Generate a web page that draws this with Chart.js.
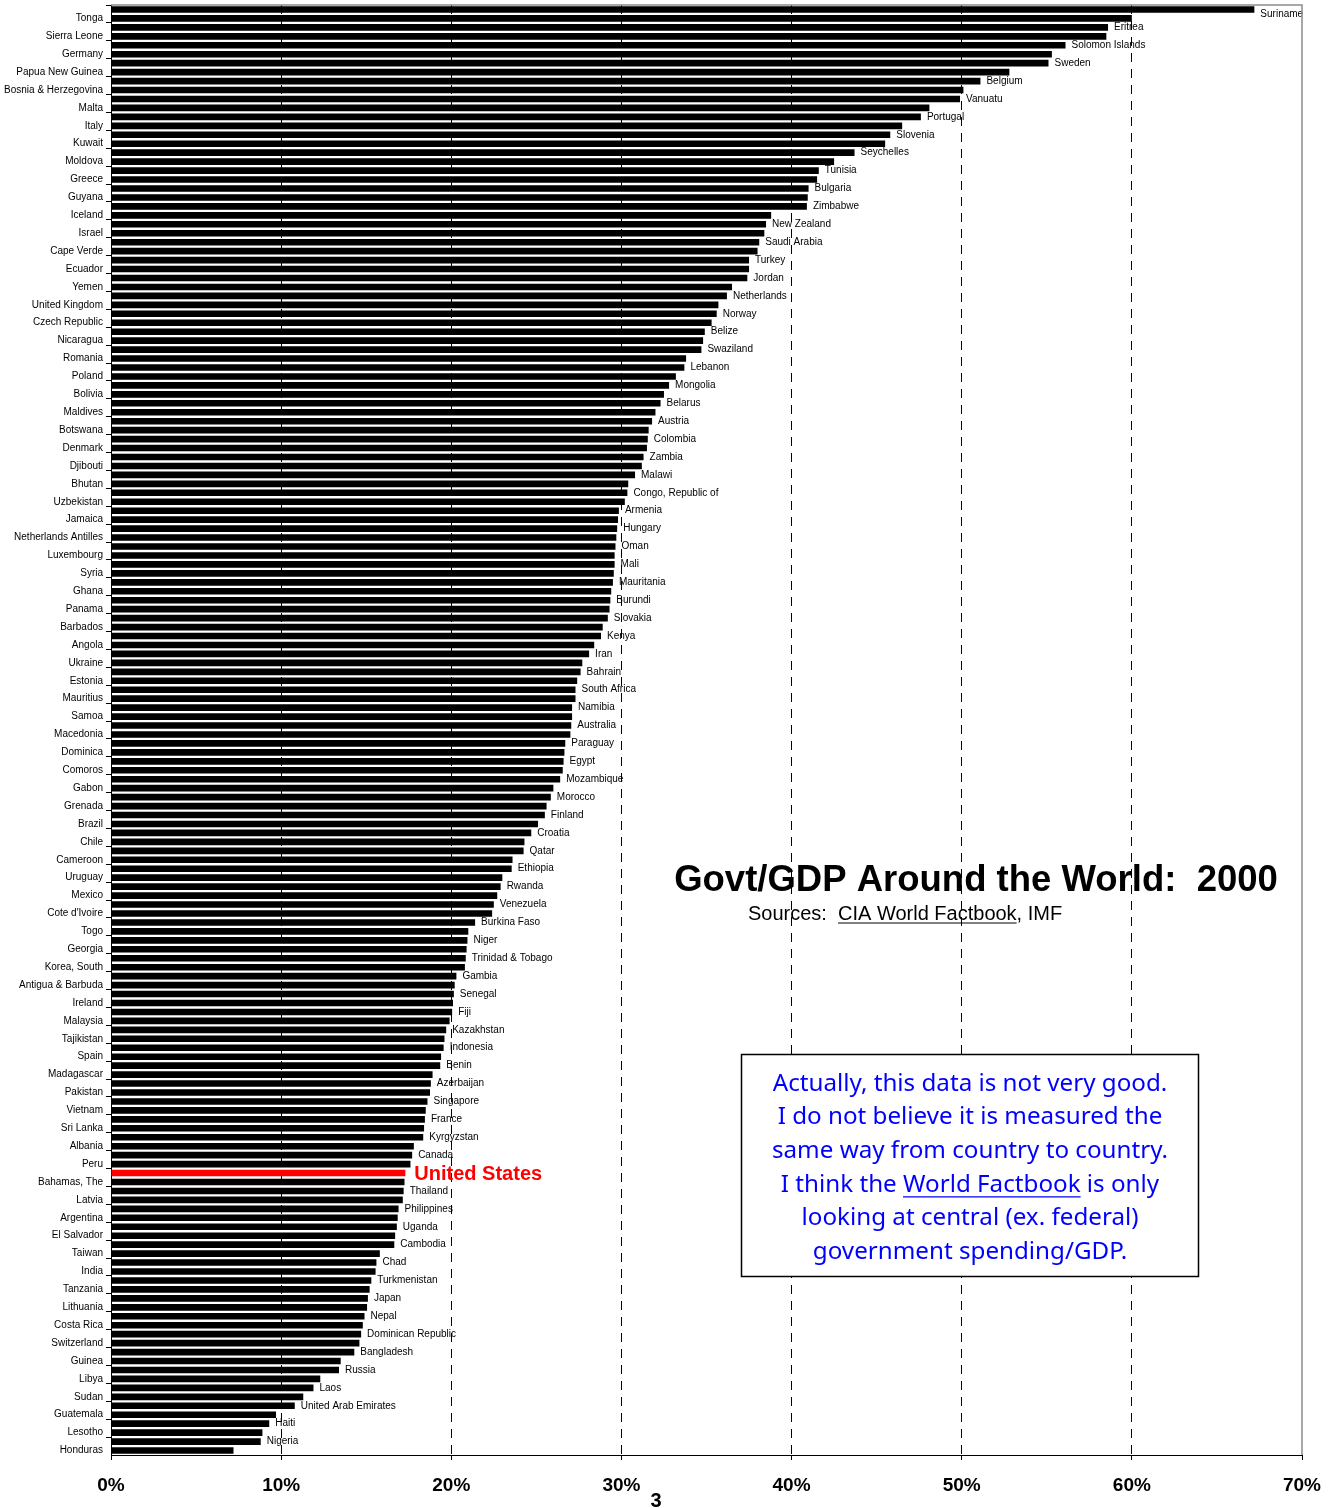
<!DOCTYPE html>
<html>
<head>
<meta charset="utf-8">
<title>Govt/GDP Around the World: 2000</title>
<script src="https://cdn.jsdelivr.net/npm/chart.js@4.4.1/dist/chart.umd.min.js"></script>
<style>
  html, body { margin: 0; padding: 0; background: #fff; }
  #wrap { width: 1331px; height: 1508px; }
</style>
</head>
<body>
<div id="wrap"><canvas id="govt-chart" width="1331" height="1508"></canvas></div>
<script>
// countries, sorted from largest to smallest govt share of GDP
const countries = [
  'Suriname', 'Tonga', 'Eritrea', 'Sierra Leone', 'Solomon Islands', 'Germany', 'Sweden', 'Papua New Guinea',
  'Belgium', 'Bosnia & Herzegovina', 'Vanuatu', 'Malta', 'Portugal', 'Italy', 'Slovenia', 'Kuwait',
  'Seychelles', 'Moldova', 'Tunisia', 'Greece', 'Bulgaria', 'Guyana', 'Zimbabwe', 'Iceland',
  'New Zealand', 'Israel', 'Saudi Arabia', 'Cape Verde', 'Turkey', 'Ecuador', 'Jordan', 'Yemen',
  'Netherlands', 'United Kingdom', 'Norway', 'Czech Republic', 'Belize', 'Nicaragua', 'Swaziland', 'Romania',
  'Lebanon', 'Poland', 'Mongolia', 'Bolivia', 'Belarus', 'Maldives', 'Austria', 'Botswana',
  'Colombia', 'Denmark', 'Zambia', 'Djibouti', 'Malawi', 'Bhutan', 'Congo, Republic of', 'Uzbekistan',
  'Armenia', 'Jamaica', 'Hungary', 'Netherlands Antilles', 'Oman', 'Luxembourg', 'Mali', 'Syria',
  'Mauritania', 'Ghana', 'Burundi', 'Panama', 'Slovakia', 'Barbados', 'Kenya', 'Angola',
  'Iran', 'Ukraine', 'Bahrain', 'Estonia', 'South Africa', 'Mauritius', 'Namibia', 'Samoa',
  'Australia', 'Macedonia', 'Paraguay', 'Dominica', 'Egypt', 'Comoros', 'Mozambique', 'Gabon',
  'Morocco', 'Grenada', 'Finland', 'Brazil', 'Croatia', 'Chile', 'Qatar', 'Cameroon',
  'Ethiopia', 'Uruguay', 'Rwanda', 'Mexico', 'Venezuela', "Cote d'Ivoire", 'Burkina Faso', 'Togo',
  'Niger', 'Georgia', 'Trinidad & Tobago', 'Korea, South', 'Gambia', 'Antigua & Barbuda', 'Senegal', 'Ireland',
  'Fiji', 'Malaysia', 'Kazakhstan', 'Tajikistan', 'Indonesia', 'Spain', 'Benin', 'Madagascar',
  'Azerbaijan', 'Pakistan', 'Singapore', 'Vietnam', 'France', 'Sri Lanka', 'Kyrgyzstan', 'Albania',
  'Canada', 'Peru', 'United States', 'Bahamas, The', 'Thailand', 'Latvia', 'Philippines', 'Argentina',
  'Uganda', 'El Salvador', 'Cambodia', 'Taiwan', 'Chad', 'India', 'Turkmenistan', 'Tanzania',
  'Japan', 'Lithuania', 'Nepal', 'Costa Rica', 'Dominican Republic', 'Switzerland', 'Bangladesh', 'Guinea',
  'Russia', 'Libya', 'Laos', 'Sudan', 'United Arab Emirates', 'Guatemala', 'Haiti', 'Lesotho',
  'Nigeria', 'Honduras'
]

// government spending as % of GDP
const govtShare = [
  67.2, 60.0, 58.6, 58.5, 56.1, 55.3, 55.1, 52.8,
  51.1, 50.1, 49.9, 48.1, 47.6, 46.5, 45.8, 45.5,
  43.7, 42.5, 41.6, 41.5, 41.0, 40.95, 40.9, 38.8,
  38.5, 38.4, 38.1, 38.0, 37.5, 37.5, 37.4, 36.5,
  36.2, 35.7, 35.6, 35.3, 34.9, 34.8, 34.7, 33.8,
  33.7, 33.2, 32.8, 32.5, 32.3, 32.0, 31.8, 31.6,
  31.55, 31.5, 31.3, 31.2, 30.8, 30.4, 30.35, 30.2,
  29.85, 29.8, 29.75, 29.7, 29.65, 29.6, 29.6, 29.55,
  29.5, 29.4, 29.35, 29.3, 29.2, 28.9, 28.8, 28.4,
  28.1, 27.7, 27.6, 27.4, 27.3, 27.3, 27.1, 27.1,
  27.05, 27.0, 26.7, 26.65, 26.6, 26.55, 26.4, 26.0,
  25.85, 25.6, 25.5, 25.1, 24.7, 24.3, 24.25, 23.6,
  23.55, 23.0, 22.9, 22.7, 22.5, 22.4, 21.4, 21.0,
  20.95, 20.9, 20.85, 20.8, 20.3, 20.2, 20.15, 20.1,
  20.05, 19.9, 19.7, 19.6, 19.55, 19.4, 19.35, 18.9,
  18.8, 18.75, 18.6, 18.5, 18.45, 18.4, 18.35, 17.8,
  17.7, 17.6, 17.3, 17.25, 17.2, 17.15, 16.9, 16.85,
  16.8, 16.7, 16.65, 15.8, 15.6, 15.55, 15.3, 15.2,
  15.1, 15.05, 14.9, 14.8, 14.7, 14.6, 14.3, 13.5,
  13.4, 12.3, 11.9, 11.3, 10.8, 9.7, 9.3, 8.9,
  8.8, 7.2
]

const xTickValues = [0, 10, 20, 30, 40, 50, 60, 70]
const highlightCountry = 'United States'

const titleText = 'Govt/GDP Around the World:  2000'
const noteLines = [
  'Actually, this data is not very good.',
  'I do not believe it is measured the',
  'same way from country to country.',
  'I think the World Factbook is only',
  'looking at central (ex. federal)',
  'government spending/GDP.'
]

const FONT = '"Liberation Sans", Arial, Helvetica, sans-serif'

// white page behind everything
const pageBackground = {
  id: 'pageBackground',
  beforeDraw(chart) {
    const ctx = chart.ctx
    ctx.save()
    ctx.fillStyle = '#fff'
    ctx.fillRect(0, 0, chart.width, chart.height)
    ctx.restore()
  }
}

// names of the even rows, written just past the end of each bar
const sideLabels = {
  id: 'sideLabels',
  afterDatasetsDraw(chart) {
    const ctx = chart.ctx
    const top = chart.chartArea.top
    const bars = chart.getDatasetMeta(0).data
    ctx.save()
    ctx.textBaseline = 'middle'
    ctx.textAlign = 'left'
    bars.forEach((bar, i) => {
      if (i % 2) return
      const name = countries[i]
      if (name === highlightCountry) {
        ctx.font = 'bold 20px ' + FONT
        ctx.fillStyle = '#ff0000'
        ctx.fillText(name, bar.x + 9, bar.y + 1)
      } else {
        ctx.font = '10px ' + FONT
        ctx.fillStyle = '#000'
        ctx.fillText(name, bar.x + 6, Math.max(bar.y, top + 9))
      }
    })
    ctx.restore()
  }
}

const underline = (ctx, x1, x2, y, color) => {
  ctx.strokeStyle = color
  ctx.lineWidth = 1.2
  ctx.beginPath()
  ctx.moveTo(x1, y)
  ctx.lineTo(x2, y)
  ctx.stroke()
}

// plot frame, title, sources, note box and page number
const annotations = {
  id: 'annotations',
  afterDraw(chart) {
    const ctx = chart.ctx
    const { left, right, top, bottom } = chart.chartArea
    ctx.save()

    ctx.strokeStyle = '#8c8c8c'
    ctx.lineWidth = 1.5
    ctx.beginPath()
    ctx.moveTo(left, top)
    ctx.lineTo(right, top)
    ctx.lineTo(right, bottom)
    ctx.stroke()

    ctx.fillStyle = '#000'
    ctx.textBaseline = 'alphabetic'
    ctx.textAlign = 'center'
    ctx.font = 'bold 36.5px ' + FONT
    ctx.fillText(titleText, 976, 891)

    ctx.textAlign = 'left'
    ctx.font = '20px ' + FONT
    const s1 = 'Sources:  '
    const s2 = 'CIA World Factbook'
    const s3 = ', IMF'
    let x = 748
    ctx.fillText(s1, x, 920)
    x += ctx.measureText(s1).width
    ctx.fillText(s2, x, 920)
    const w2 = ctx.measureText(s2).width
    underline(ctx, x, x + w2, 923, '#000')
    ctx.fillText(s3, x + w2, 920)

    // note box
    ctx.fillStyle = '#fff'
    ctx.fillRect(741, 1054, 457, 222)
    ctx.strokeStyle = '#000'
    ctx.lineWidth = 1.5
    ctx.strokeRect(741.5, 1054.5, 457, 222)

    const noteFont = '"Noto Sans", "DejaVu Sans", sans-serif'
    ctx.font = '24px ' + noteFont
    const size = 24 * 395 / ctx.measureText(noteLines[0]).width
    ctx.font = size.toFixed(1) + 'px ' + noteFont
    ctx.fillStyle = '#0000ff'
    ctx.textAlign = 'left'
    ctx.textBaseline = 'middle'
    noteLines.forEach((line, i) => {
      const w = ctx.measureText(line).width
      const lx = 970 - w / 2
      const ly = 1084 + i * 33.6
      ctx.fillText(line, lx, ly)
      if (i === 3) {
        const pre = ctx.measureText('I think the ').width
        const ww = ctx.measureText('World Factbook').width
        underline(ctx, lx + pre, lx + pre + ww, ly + size * 0.5, '#0000ff')
      }
    })

    ctx.fillStyle = '#000'
    ctx.textAlign = 'center'
    ctx.textBaseline = 'alphabetic'
    ctx.font = 'bold 20px ' + FONT
    ctx.fillText('3', 656, 1507)

    ctx.restore()
  }
}

const ctx = document.getElementById('govt-chart').getContext('2d')

new Chart(ctx, {
  type: 'bar',
  data: {
    labels: countries,
    datasets: [
      {
        data: govtShare,
        backgroundColor: countries.map(c => (c === highlightCountry ? '#ff0000' : '#000')),
        borderWidth: 0,
        barPercentage: 0.74,
        categoryPercentage: 1
      }
    ]
  },
  options: {
    indexAxis: 'y',
    responsive: false,
    animation: false,
    layout: { padding: { top: 5, right: 29, left: 0, bottom: 0 } },
    plugins: {
      legend: { display: false },
      tooltip: { enabled: false }
    },
    scales: {
      x: {
        position: 'bottom',
        min: 0,
        max: 70,
        afterBuildTicks: scale => {
          scale.ticks = xTickValues.map(v => ({ value: v }))
        },
        afterFit: scale => {
          scale.height = 53
          scale.paddingLeft = 0
          scale.paddingRight = 0
        },
        grid: {
          color: c => (c.tick && c.tick.value > 0 && c.tick.value < 70 ? '#000' : 'rgba(0,0,0,0)'),
          tickColor: '#000',
          tickLength: 5,
          lineWidth: 1
        },
        border: { display: true, color: '#000', width: 1, dash: [9, 7] },
        ticks: {
          autoSkip: false,
          maxRotation: 0,
          padding: 14,
          color: '#000',
          font: { family: FONT, size: 19, weight: 'bold' },
          callback: v => v + '%'
        }
      },
      y: {
        afterFit: scale => {
          scale.width = 111
          scale.paddingTop = 0
          scale.paddingBottom = 0
        },
        grid: {
          drawOnChartArea: false,
          offset: true,
          tickLength: 5,
          color: c => (c.index % 2 === 0 ? '#000' : 'rgba(0,0,0,0)')
        },
        border: { display: true, color: '#000', width: 1 },
        ticks: {
          autoSkip: false,
          padding: 3,
          color: '#000',
          font: { family: FONT, size: 10 },
          callback: (v, i) => (i % 2 ? countries[i] : '')
        }
      }
    }
  },
  plugins: [pageBackground, sideLabels, annotations]
})
</script>
</body>
</html>
